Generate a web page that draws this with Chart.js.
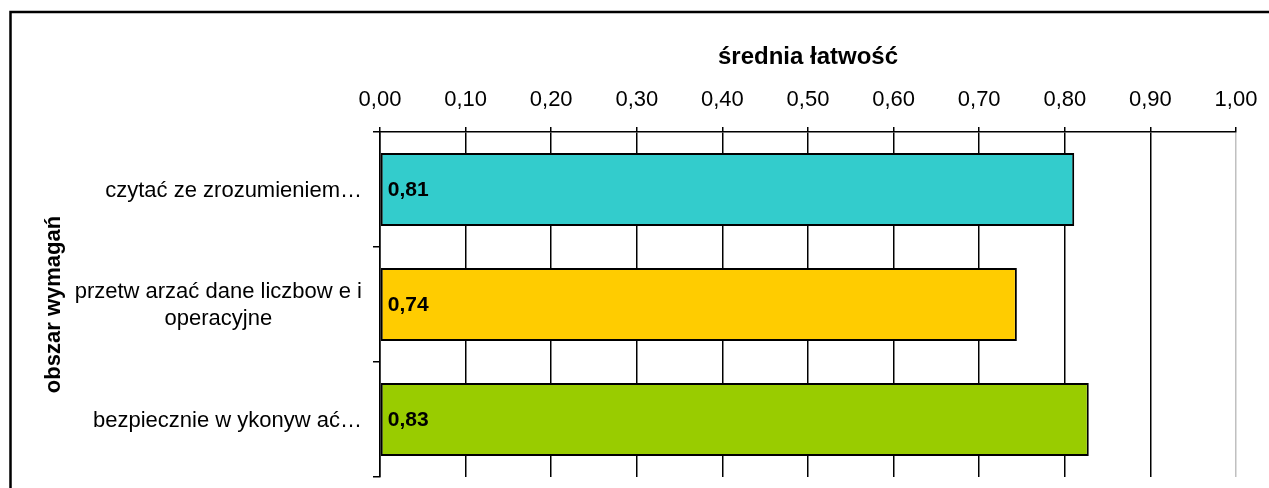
<!DOCTYPE html>
<html>
<head>
<meta charset="utf-8">
<script src="https://cdn.jsdelivr.net/npm/chart.js@4.4.1/dist/chart.umd.min.js"></script>
<style>
  html, body { margin: 0; padding: 0; background: #fff; }
  #wrap { width: 1269px; height: 488px; position: relative; }
</style>
</head>
<body>
<div id="wrap"><canvas id="c" width="1269" height="488"></canvas></div>
<script>
const categories = ['czytać ze zrozumieniem…', ['przetw arzać dane liczbow e i', 'operacyjne'], 'bezpiecznie w ykonyw ać…'];
const values = [0.811, 0.744, 0.828];
const xTickValues = [0, 0.1, 0.2, 0.3, 0.4, 0.5, 0.6, 0.7, 0.8, 0.9, 1.0];
const xTitle = 'średnia łatwość';
const yTitle = 'obszar wymagań';
const barColors = ['#33CCCC', '#FFCC00', '#99CC00'];

const fmt = v => Number(v).toFixed(2).replace('.', ',');
const FONT = "'Liberation Sans', Arial, sans-serif";
const CAT_FONT_SIZE = 22;
const CAT_LINE_H = 27.5;

const framePlugin = {
  id: 'frame',
  beforeDraw(chart) {
    const ctx = chart.ctx;
    ctx.save();
    ctx.strokeStyle = '#000';
    ctx.lineWidth = 2.5;
    ctx.strokeRect(10.5, 12, 1400, 700);
    ctx.restore();
  }
};

const labelPlugin = {
  id: 'barLabels',
  afterDatasetsDraw(chart) {
    const ctx = chart.ctx;
    const meta = chart.getDatasetMeta(0);
    ctx.save();
    ctx.fillStyle = '#000';
    ctx.font = "bold 21px " + FONT;
    ctx.textAlign = 'left';
    ctx.textBaseline = 'middle';
    meta.data.forEach((bar, i) => {
      const v = chart.data.datasets[0].data[i];
      ctx.fillText(fmt(v), bar.base + 7, bar.y + 1);
    });
    ctx.restore();
  }
};

// Category labels: single lines right-aligned, wrapped labels centred (Excel style)
const catLabelPlugin = {
  id: 'catLabels',
  afterDraw(chart) {
    const ys = chart.scales.y;
    const ctx = chart.ctx;
    const rightX = ys.right - 18;
    ctx.save();
    ctx.fillStyle = '#000';
    ctx.font = CAT_FONT_SIZE + "px " + FONT;
    ctx.textBaseline = 'middle';
    chart.data.labels.forEach((lbl, i) => {
      const y = ys.getPixelForTick(i);
      const lines = Array.isArray(lbl) ? lbl : [lbl];
      const y0 = y - (lines.length - 1) * CAT_LINE_H / 2 + 1;
      if (lines.length === 1) {
        ctx.textAlign = 'right';
        ctx.fillText(lines[0], rightX, y0);
      } else {
        const w = Math.max(...lines.map(s => ctx.measureText(s).width));
        ctx.textAlign = 'center';
        lines.forEach((s, k) => ctx.fillText(s, rightX - w / 2, y0 + k * CAT_LINE_H));
      }
    });
    ctx.restore();
  }
};

new Chart(document.getElementById('c'), {
  type: 'bar',
  data: {
    labels: categories,
    datasets: [{
      data: values,
      backgroundColor: barColors,
      borderColor: '#000',
      borderWidth: 2,
      borderSkipped: false,
      categoryPercentage: 1.0,
      barPercentage: 0.635
    }]
  },
  options: {
    indexAxis: 'y',
    responsive: false,
    animation: false,
    devicePixelRatio: 1,
    layout: { padding: { left: 0, top: 0, right: 33, bottom: 11 } },
    plugins: { legend: { display: false }, tooltip: { enabled: false } },
    scales: {
      x: {
        position: 'top',
        min: 0,
        max: 1,
        afterBuildTicks(scale) { scale.ticks = xTickValues.map(v => ({ value: v })); },
        afterFit(scale) { scale.height = 132; scale.paddingLeft = 0; scale.paddingRight = 0; },
        ticks: {
          color: '#000',
          font: { family: FONT, size: 22 },
          padding: 14,
          maxRotation: 0,
          callback: v => fmt(v)
        },
        grid: {
          color: ctx => (ctx.tick && Math.abs(ctx.tick.value - 1) < 1e-9) ? '#c0c0c0' : '#000',
          tickColor: '#000',
          lineWidth: 1.5,
          tickLength: 5
        },
        border: { color: '#000', width: 1.5 },
        title: {
          display: true,
          text: xTitle,
          color: '#000',
          font: { family: FONT, size: 24, weight: 'bold' },
          padding: { top: 43, bottom: 0 }
        }
      },
      y: {
        position: 'left',
        afterFit(scale) { scale.width = 380; scale.paddingTop = 0; scale.paddingBottom = 0; },
        ticks: {
          color: 'rgba(0,0,0,0)',
          font: { family: FONT, size: CAT_FONT_SIZE, lineHeight: 1.25 },
          padding: 10
        },
        grid: {
          drawOnChartArea: false,
          drawTicks: true,
          tickLength: 7,
          color: '#000',
          lineWidth: 1.5,
          offset: true
        },
        border: { color: '#000', width: 1.5 },
        title: {
          display: true,
          text: yTitle,
          color: '#000',
          font: { family: FONT, size: 22, weight: 'bold' },
          padding: { top: 41, bottom: 0 }
        }
      }
    }
  },
  plugins: [framePlugin, labelPlugin, catLabelPlugin]
});
</script>
</body>
</html>
